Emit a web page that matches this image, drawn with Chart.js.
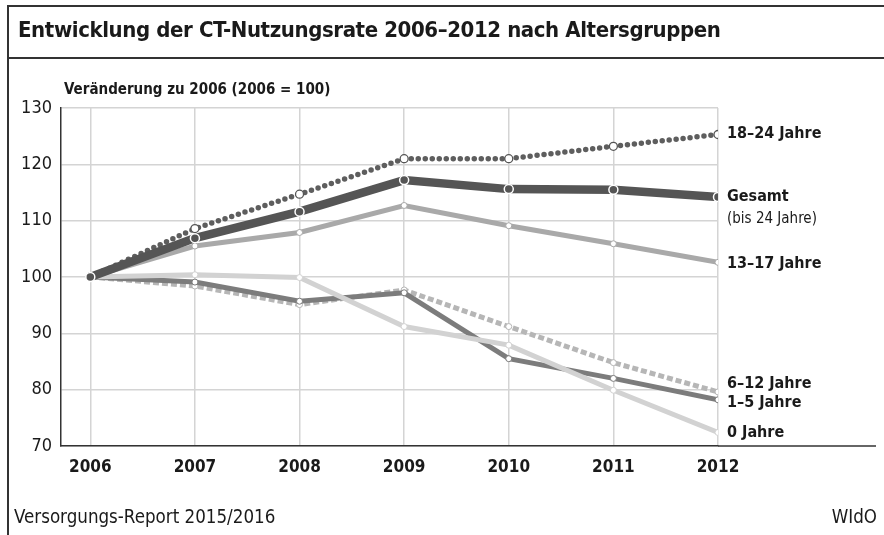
<!DOCTYPE html>
<html lang="de">
<head>
<meta charset="utf-8">
<title>CT-Nutzungsrate nach Altersgruppen</title>
<script src="https://cdn.jsdelivr.net/npm/chart.js@4.4.1/dist/chart.umd.min.js"></script>
<style>
  html, body { margin: 0; padding: 0; background: #fff; }
  #wrap { position: relative; width: 884px; height: 535px; overflow: hidden;
          font-family: "Liberation Sans Narrow", "DejaVu Sans Condensed", "Liberation Sans", sans-serif; color: #1a1a1a; }
  #chart { position: absolute; left: 0; top: 0; }
  .frame-top { position: absolute; left: 7px; right: 0; top: 5px; border-top: 2px solid #333; }
  .frame-mid { position: absolute; left: 7px; right: 0; top: 57px; border-top: 2px solid #333; }
  .frame-left { position: absolute; left: 7px; top: 5px; bottom: 0; border-left: 2px solid #333; }
  .title { position: absolute; left: 18px; top: 17px; font-size: 22px; letter-spacing: -0.4px; font-weight: bold; white-space: nowrap; }
  .subtitle { position: absolute; left: 64px; top: 80px; font-size: 15px; font-weight: bold; white-space: nowrap; }
  .source { position: absolute; left: 14px; top: 506px; font-size: 18.6px; white-space: nowrap; }
  .wido { position: absolute; right: 7px; top: 506px; font-size: 18.6px; white-space: nowrap; }
</style>
</head>
<body>
<div id="wrap">
  <canvas id="chart" width="884" height="535"></canvas>
  <div class="frame-top"></div>
  <div class="frame-mid"></div>
  <div class="frame-left"></div>
  <div class="title">Entwicklung der CT-Nutzungsrate 2006–2012 nach Altersgruppen</div>
  <div class="subtitle">Veränderung zu 2006 (2006 = 100)</div>
  <div class="source">Versorgungs-Report 2015/2016</div>
  <div class="wido">WIdO</div>
</div>
<script>
// Jahre und Werte (2006 = 100)
const years = [2006, 2007, 2008, 2009, 2010, 2011, 2012];
const yTicks = [70, 80, 90, 100, 110, 120, 130];

const gesamt   = [100, 106.9, 111.6, 117.2, 115.6, 115.5, 114.2];
const age18_24 = [100, 108.6, 114.7, 121.0, 121.0, 123.2, 125.3];
const age13_17 = [100, 105.5, 107.9, 112.7, 109.1, 105.9, 102.6];
const age0     = [100, 100.4,  99.9,  91.2,  87.9,  79.9,  72.4];
const age1_5   = [100,  99.1,  95.7,  97.2,  85.5,  82.0,  78.2];
const age6_12  = [100,  98.4,  95.1,  97.7,  91.2,  84.8,  79.6];

// Beschriftungen rechts (Name, Zusatz, kleine Verschiebung in px)
const seriesLabels = ['Gesamt', '18–24 Jahre', '13–17 Jahre', '0 Jahre', '1–5 Jahre', '6–12 Jahre'];
const labelNotes = ['(bis 24 Jahre)', '', '', '', '', ''];
const labelNudge = [0, -1, 1, 0, 3, -8];

const FONT = '"Liberation Sans Narrow", "DejaVu Sans Condensed", "Liberation Sans", sans-serif';

const toPoints = arr => arr.map((v, i) => ({ x: years[i], y: v }));

// Rechte Beschriftungen + verlängerte x-Achse
const endLabels = {
  id: 'endLabels',
  afterDraw(chart) {
    const { ctx, chartArea, scales } = chart;
    ctx.save();
    // x-Achse weiter nach rechts ziehen
    ctx.strokeStyle = '#333';
    ctx.lineWidth = 1.5;
    ctx.beginPath();
    ctx.moveTo(chartArea.right, chartArea.bottom);
    ctx.lineTo(876, chartArea.bottom);
    ctx.stroke();

    ctx.fillStyle = '#1a1a1a';
    ctx.textBaseline = 'middle';
    chart.data.datasets.forEach((ds, i) => {
      const last = ds.data[ds.data.length - 1].y;
      const y = scales.y.getPixelForValue(last) + labelNudge[i];
      const x = chartArea.right + 9;
      ctx.font = 'bold 16px ' + FONT;
      ctx.fillText(seriesLabels[i], x, y);
      if (labelNotes[i]) {
        ctx.font = '15px ' + FONT;
        ctx.fillText(labelNotes[i], x, y + 22);
      }
    });
    ctx.restore();
  }
};

new Chart(document.getElementById('chart'), {
  type: 'line',
  data: {
    datasets: [
      {
        label: seriesLabels[0],
        data: toPoints(gesamt),
        borderColor: '#555',
        borderWidth: 8.5,
        pointRadius: 4.5,
        pointBackgroundColor: '#555',
        pointBorderColor: '#fff',
        pointBorderWidth: 1.5
      },
      {
        label: seriesLabels[1],
        data: toPoints(age18_24),
        borderColor: '#5e5e5e',
        borderWidth: 5.5,
        borderDash: [0, 7],
        borderCapStyle: 'round',
        pointRadius: 4,
        pointBackgroundColor: '#fff',
        pointBorderColor: '#555',
        pointBorderWidth: 1.3
      },
      {
        label: seriesLabels[2],
        data: toPoints(age13_17),
        borderColor: '#a9a9a9',
        borderWidth: 5,
        pointRadius: 3,
        pointBackgroundColor: '#fff',
        pointBorderColor: '#a9a9a9',
        pointBorderWidth: 1
      },
      {
        label: seriesLabels[3],
        data: toPoints(age0),
        borderColor: '#d2d2d2',
        borderWidth: 5,
        pointRadius: 3,
        pointBackgroundColor: '#fff',
        pointBorderColor: '#d2d2d2',
        pointBorderWidth: 1
      },
      {
        label: seriesLabels[4],
        data: toPoints(age1_5),
        borderColor: '#7c7c7c',
        borderWidth: 5,
        pointRadius: 3,
        pointBackgroundColor: '#fff',
        pointBorderColor: '#7c7c7c',
        pointBorderWidth: 1
      },
      {
        label: seriesLabels[5],
        data: toPoints(age6_12),
        borderColor: '#b6b6b6',
        borderWidth: 5,
        borderDash: [6, 3],
        pointRadius: 3,
        pointBackgroundColor: '#fff',
        pointBorderColor: '#b6b6b6',
        pointBorderWidth: 1
      }
    ]
  },
  options: {
    responsive: false,
    animation: false,
    events: [],
    layout: { padding: { top: 108, right: 166, left: 0, bottom: 0 } },
    plugins: { legend: { display: false }, tooltip: { enabled: false } },
    scales: {
      x: {
        type: 'linear',
        min: 2005.72,
        max: 2012,
        afterFit: s => { s.height = 89; },
        afterBuildTicks: s => { s.ticks = years.map(v => ({ value: v })); },
        grid: { color: '#d4d4d4', lineWidth: 1.5, drawTicks: false },
        border: { color: '#333', width: 1.5 },
        ticks: {
          padding: 11,
          color: '#1a1a1a',
          font: { family: FONT, size: 17, weight: 'bold' },
          callback: v => String(v)
        }
      },
      y: {
        min: 70,
        max: 130,
        afterFit: s => { s.width = 61; },
        afterBuildTicks: s => { s.ticks = yTicks.map(v => ({ value: v })); },
        grid: { color: '#d4d4d4', lineWidth: 1.5, drawTicks: false },
        border: { color: '#333', width: 1.5 },
        ticks: {
          padding: 9,
          color: '#1a1a1a',
          font: { family: FONT, size: 18 }
        }
      }
    }
  },
  plugins: [endLabels]
});
</script>
</body>
</html>
